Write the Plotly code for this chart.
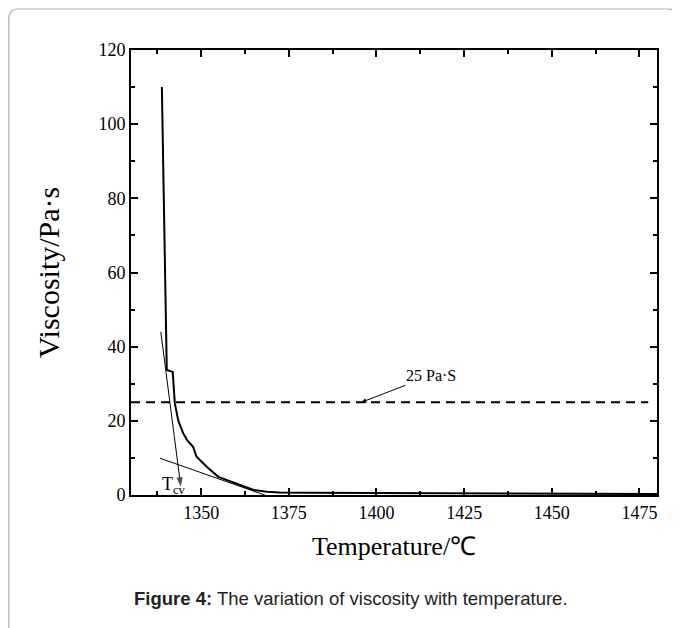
import plotly.graph_objects as go

# Main viscosity curve
temperature = [1338.8, 1339.2, 1339.7, 1340.2, 1341.9, 1342.5, 1343.5, 1344.9, 1346.0,
               1347.7, 1348.7, 1351.6, 1354.9, 1357.5, 1360.1, 1362.5, 1364.8, 1368.7,
               1372.4, 1380, 1390, 1400, 1425, 1450, 1480]
viscosity = [110, 84.9, 54.4, 33.7, 33.2, 24.7, 20.0, 16.6, 14.8,
             13.0, 10.3, 7.6, 4.9, 4.0, 3.2, 2.2, 1.4, 0.9,
             0.7, 0.6, 0.55, 0.5, 0.4, 0.3, 0.25]

# Tangent lines
tangent1_x = [1338.5, 1344.2]
tangent1_y = [44.0, 2.2]
tangent2_x = [1338.3, 1368.7]
tangent2_y = [9.9, -0.2]

# Reference level
ref_x = [1330, 1477.5]
ref_y = [25, 25]
ref_label = "25 Pa·S"
ref_arrow_tip = (1395.7, 25)

x_ticks = [1350, 1375, 1400, 1425, 1450, 1475]
x_minor = [1337.5, 1362.5, 1387.5, 1412.5, 1437.5, 1462.5]
y_ticks = [0, 20, 40, 60, 80, 100, 120]
y_minor = [10, 30, 50, 70, 90, 110]

SERIF = "Liberation Serif, Times New Roman, serif"

# figure geometry (page body has an 8px margin)
W, H = 672, 620
L, R, T, B = 123, 23, 42, 133
PW, PH = W - L - R, H - T - B


def px(xf):
    return (xf - L) / PW


def py(yf):
    return (H - B - yf) / PH


fig = go.Figure()
fig.add_trace(go.Scatter(x=temperature, y=viscosity, mode="lines",
                         line=dict(color="black", width=2), showlegend=False))
fig.add_trace(go.Scatter(x=tangent2_x, y=tangent2_y, mode="lines",
                         line=dict(color="black", width=1), showlegend=False))
fig.add_trace(go.Scatter(x=tangent1_x, y=tangent1_y, mode="lines+markers",
                         line=dict(color="black", width=1),
                         marker=dict(symbol=["circle", "arrow"], size=[0, 10], color="black",
                                     angleref="previous", line=dict(width=0)),
                         showlegend=False))
fig.add_trace(go.Scatter(x=ref_x, y=ref_y, mode="lines",
                         line=dict(color="black", width=2, dash="9px,6px"), showlegend=False))

fig.add_annotation(x=ref_arrow_tip[0], y=ref_arrow_tip[1], text=ref_label,
                   showarrow=True, arrowhead=2, arrowsize=1, arrowwidth=1, arrowcolor="black",
                   ax=70, ay=-27, font=dict(family=SERIF, size=16, color="black"))

fig.add_annotation(x=1342.2, y=2.6, text="T<sub>cv</sub>", showarrow=False,
                   font=dict(family=SERIF, size=18, color="black"))

# Caption
fig.add_annotation(xref="paper", yref="paper", x=px(343), y=py(590),
                   xanchor="center", yanchor="middle",
                   text="<b>Figure 4:</b> The variation of viscosity with temperature.",
                   showarrow=False,
                   font=dict(family="Liberation Sans, Arial, sans-serif", size=18.5, color="#222"))

# Rounded frame
x0, x1 = px(0.8), px(670)
yt, yb = py(1), py(700)
rx, ry = 10 / PW, 10 / PH
path = (f"M {x0},{yb} L {x0},{yt - ry} Q {x0},{yt} {x0 + rx},{yt} "
        f"L {x1 - rx},{yt} Q {x1},{yt} {x1},{yt - ry} L {x1},{yb}")
fig.add_shape(type="path", path=path, xref="paper", yref="paper",
              line=dict(color="#b0b0b0", width=1.2), layer="below")

axis_common = dict(showline=True, linecolor="black", linewidth=2, mirror="ticks",
                   ticks="inside", ticklen=7, tickwidth=1.5, tickcolor="black",
                   showgrid=False, zeroline=False,
                   tickfont=dict(family=SERIF, size=18, color="black"))

fig.update_xaxes(range=[1330, 1480], tickvals=x_ticks,
                 minor=dict(ticks="inside", ticklen=4, tickwidth=1.5, tickcolor="black",
                            tickvals=x_minor),
                 title=dict(text="Temperature/℃", font=dict(family=SERIF, size=26, color="black"),
                            standoff=15),
                 **axis_common)
fig.update_yaxes(range=[0, 120], tickvals=y_ticks,
                 minor=dict(ticks="inside", ticklen=4, tickwidth=1.5, tickcolor="black",
                            tickvals=y_minor),
                 title=dict(text="Viscosity/Pa·s", font=dict(family=SERIF, size=30, color="black"),
                            standoff=30),
                 **axis_common)

fig.update_layout(width=W, height=H, margin=dict(l=L, r=R, t=T, b=B),
                  plot_bgcolor="white", paper_bgcolor="white", showlegend=False)

fig.write_html("out.html")
